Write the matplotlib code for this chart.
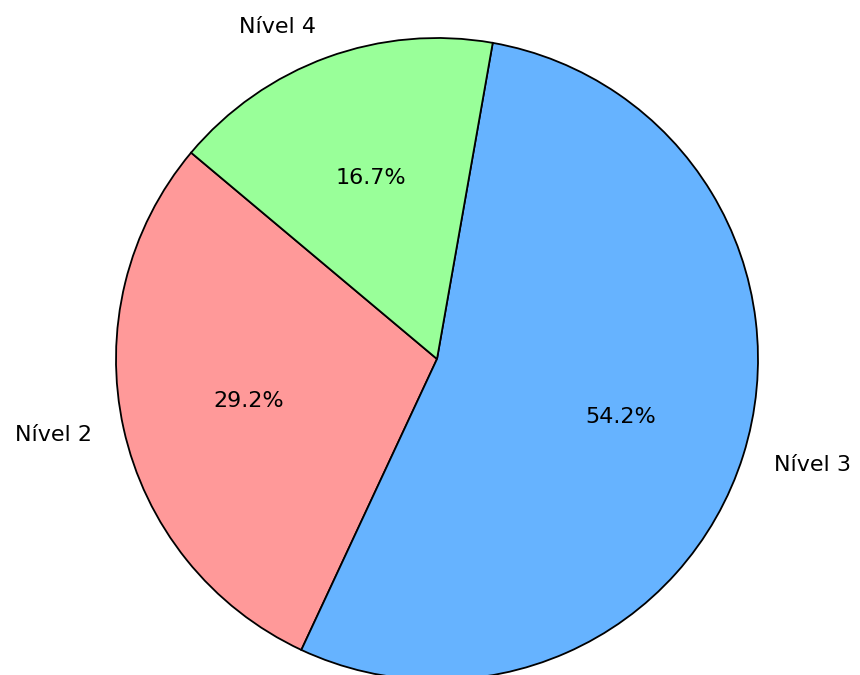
import matplotlib
matplotlib.use("Agg")
import matplotlib.pyplot as plt

labels = ["Nível 2", "Nível 3", "Nível 4"]
values = [7, 13, 4]
colors = ["#ff9999", "#66b3ff", "#99ff99"]

fig = plt.figure(figsize=(8.6, 6.75), dpi=100)
R = 321
cx, cy = 437, 675 - 359
ax = fig.add_axes([(cx - R) / 860, (cy - R) / 675, 2 * R / 860, 2 * R / 675])
ax.pie(values, labels=labels, colors=colors, autopct="%1.1f%%", startangle=140,
       wedgeprops={"edgecolor": "black", "linewidth": 1.3},
       textprops={"fontsize": 16})
ax.set_xlim(-1, 1)
ax.set_ylim(-1, 1)
ax.set_aspect("equal")
ax.axis("off")
fig.savefig("out.png", dpi=100)
